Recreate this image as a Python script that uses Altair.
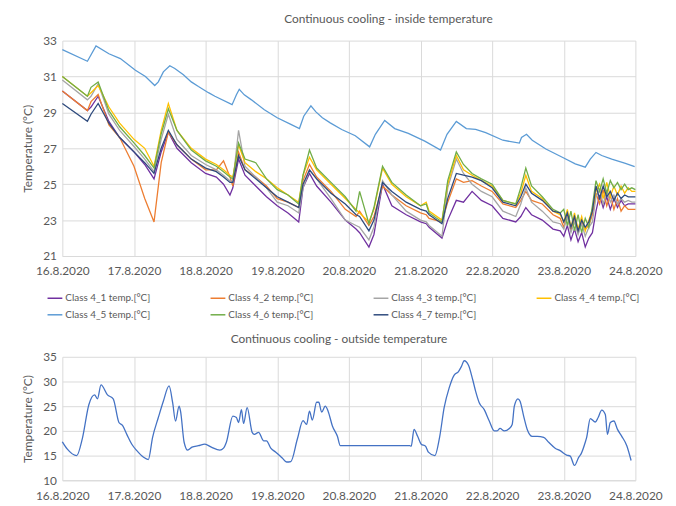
import altair as alt
import pandas as pd

# ---- inside temperatures: common time grid (days after 16.8.2020 00:00) ----
days = [0, 0.35, 0.40, 0.50, 0.65, 0.80, 1.00, 1.15, 1.28, 1.38,
        1.48, 1.60, 1.80, 2.00, 2.15, 2.25, 2.34, 2.38, 2.46, 2.55,
        2.70, 2.85, 3.00, 3.15, 3.30, 3.36, 3.45, 3.55, 3.75, 3.95,
        4.10, 4.15, 4.28, 4.35, 4.47, 4.60, 4.80, 5.00, 5.08, 5.12,
        5.30, 5.38, 5.50, 5.60, 5.72, 5.85, 6.00, 6.15, 6.33, 6.40,
        6.47, 6.55, 6.70, 6.85, 6.95, 7.00, 7.05, 7.10, 7.15, 7.20,
        7.25, 7.30, 7.35, 7.40, 7.45, 7.50, 7.55, 7.60, 7.65, 7.70,
        7.75, 7.80, 7.85, 7.90, 7.95, 8.00]

class_4_1 = [30.2, 29.1, 29.3, 29.9, 28.5, 27.6, 26.8, 26.1, 25.3, 26.8,
             27.9, 27.0, 26.2, 25.6, 25.4, 25.0, 24.4, 24.8, 26.4, 25.5,
             24.9, 24.3, 23.8, 23.4, 22.9, 24.8, 25.6, 24.9, 24.0, 23.0,
             22.5, 22.3, 21.5, 22.2, 25.0, 23.8, 23.3, 22.9, 22.8, 22.6,
             22.0, 23.0, 24.1, 24.0, 24.6, 24.1, 23.8, 23.1, 22.9, 23.2,
             23.7, 23.3, 23.0, 22.5, 22.4, 22.1, 22.7, 21.9, 22.5, 21.8,
             22.3, 21.5, 22.0, 22.3, 23.5, 24.4, 23.7, 24.3, 23.6, 24.2,
             23.7, 24.1, 23.8, 23.9, 23.9, 23.9]

class_4_2 = [30.2, 29.1, 29.6, 30.0, 28.3, 27.6, 26.0, 24.2, 22.9, 26.2,
             27.9, 27.2, 26.4, 25.8, 25.8, 26.3, 25.4, 24.9, 26.8, 25.8,
             25.4, 24.9, 24.2, 24.0, 23.7, 25.2, 26.1, 25.4, 24.6, 23.6,
             23.2, 23.5, 22.7, 23.2, 24.9, 24.4, 23.8, 23.4, 23.3, 23.1,
             22.9, 24.0, 25.3, 25.1, 25.2, 24.9, 24.6, 23.9, 23.7, 24.1,
             24.6, 24.1, 23.9, 23.3, 23.1, 22.6, 23.3, 22.4, 23.1, 22.3,
             22.9, 22.5, 22.7, 23.3, 24.5, 23.9, 24.7, 23.8, 24.4, 23.6,
             24.2, 23.5, 23.8, 23.6, 23.6, 23.6]

class_4_3 = [30.8, 29.7, 29.9, 30.6, 28.9, 28.0, 27.1, 26.4, 25.7, 27.5,
             28.9, 27.5, 26.6, 26.1, 25.8, 25.5, 25.2, 25.1, 28.0, 26.0,
             25.4, 24.8, 24.0, 23.8, 23.4, 24.8, 25.8, 25.3, 24.2, 23.0,
             22.7, 22.6, 21.9, 22.6, 25.2, 24.4, 23.5, 23.0, 22.9, 22.7,
             22.1, 24.8, 26.4, 25.6, 25.0, 24.6, 24.3, 23.5, 23.2, 23.9,
             24.8, 24.0, 23.5, 22.9, 22.8, 22.5, 23.2, 22.3, 22.9, 22.2,
             22.8, 22.1, 22.6, 22.9, 24.3, 24.7, 23.9, 24.6, 24.0, 24.4,
             23.9, 24.2, 24.0, 24.1, 24.0, 24.0]

class_4_4 = [31.0, 29.9, 30.1, 30.5, 29.3, 28.4, 27.5, 27.0, 26.0, 28.0,
             29.5, 28.0, 27.0, 26.4, 26.1, 25.8, 25.5, 25.4, 27.2, 26.2,
             25.7, 25.3, 24.8, 24.4, 24.0, 25.5, 26.5, 25.8, 25.0, 24.2,
             23.6, 23.4, 22.9, 23.6, 25.9, 25.0, 24.3, 23.8, 24.0, 23.5,
             23.0, 25.0, 26.6, 25.8, 25.5, 25.2, 24.9, 24.1, 23.9, 24.5,
             25.5, 24.6, 24.2, 23.5, 23.3, 22.9, 23.6, 22.6, 23.4, 22.5,
             23.2, 22.4, 23.0, 23.6, 24.6, 25.0, 24.2, 25.1, 24.3, 24.9,
             24.4, 24.9, 24.5, 24.8, 24.6, 24.6]

class_4_6 = [31.0, 29.9, 30.4, 30.7, 29.1, 28.2, 27.3, 26.6, 25.9, 27.8,
             29.2, 28.0, 26.9, 26.3, 26.0, 25.7, 25.4, 25.3, 27.3, 26.4,
             26.2, 25.3, 24.7, 24.4, 23.9, 25.5, 26.9, 25.9, 25.1, 24.3,
             23.5, 24.6, 22.8, 23.7, 26.0, 25.1, 24.4, 23.8, 23.9, 23.4,
             22.9, 25.2, 26.8, 26.1, 25.6, 25.3, 25.0, 24.1, 23.9, 24.8,
             25.9, 24.9, 24.3, 23.6, 23.4, 23.6, 22.7, 23.5, 22.4, 23.3,
             22.3, 23.1, 22.6, 23.8, 25.2, 24.6, 25.3, 24.5, 25.2, 24.8,
             25.1, 24.7, 25.0, 24.7, 24.8, 24.7]

class_4_7 = [29.5, 28.5, 28.9, 29.5, 28.4, 27.6, 26.8, 26.2, 25.6, 27.0,
             28.0, 27.2, 26.4, 25.9, 25.7, 25.4, 25.1, 25.1, 26.6, 25.8,
             25.3, 24.8, 24.3, 24.0, 23.7, 25.0, 25.8, 25.3, 24.5, 23.9,
             23.3, 23.2, 22.4, 23.0, 25.1, 24.6, 24.0, 23.6, 23.5, 23.3,
             22.8, 24.2, 25.6, 25.5, 25.4, 25.2, 24.8, 24.0, 23.8, 24.3,
             25.0, 24.5, 24.1, 23.5, 23.4, 22.9, 23.4, 22.6, 23.2, 22.4,
             23.0, 22.6, 22.9, 23.5, 24.9, 24.2, 24.9, 24.3, 24.6, 24.1,
             24.5, 24.2, 24.4, 24.3, 24.3, 24.3]

# Class 4_5 has its own time points
days_4_5 = [0, 0.35, 0.47, 0.65, 0.81, 1.02, 1.16, 1.29, 1.34, 1.41,
            1.5, 1.57, 1.69, 1.8, 1.9, 2.04, 2.13, 2.37, 2.43, 2.47,
            2.54, 2.64, 2.82, 3.0, 3.19, 3.31, 3.37, 3.47, 3.54, 3.63,
            3.74, 3.9, 4.09, 4.29, 4.37, 4.5, 4.64, 4.83, 5.06, 5.28,
            5.37, 5.5, 5.64, 5.77, 5.91, 6.15, 6.38, 6.41, 6.48, 6.56,
            6.75, 7.0, 7.16, 7.3, 7.37, 7.45, 7.53, 7.67, 7.85, 7.99]
class_4_5 = [32.5, 31.85, 32.7, 32.27, 32.0, 31.35, 31.0, 30.5, 30.7, 31.26,
             31.6, 31.45, 31.1, 30.7, 30.44, 30.1, 29.9, 29.43, 29.98, 30.29,
             29.98, 29.7, 29.15, 28.7, 28.33, 28.1, 28.79, 29.37, 29.03, 28.7,
             28.42, 28.05, 27.7, 27.08, 27.78, 28.55, 28.1, 27.83, 27.4, 26.9,
             27.78, 28.5, 28.1, 28.05, 27.87, 27.45, 27.29, 27.6, 27.78, 27.45,
             26.96, 26.46, 26.13, 25.95, 26.4, 26.77, 26.6, 26.4, 26.17, 25.98]

# ---- outside temperature ----
days_out = [0, .07, .2, .28, .37, .45, .49, .54, .63, .71,
            .79, .84, .9, .97, 1.04, 1.13, 1.2, 1.26, 1.34, 1.41,
            1.49, 1.54, 1.58, 1.63, 1.65, 1.7, 1.75, 1.81, 1.9, 1.99,
            2.08, 2.2, 2.25, 2.29, 2.38, 2.43, 2.46, 2.5, 2.53, 2.58,
            2.65, 2.68, 2.74, 2.81, 2.85, 2.91, 2.98, 3.07, 3.13, 3.19,
            3.28, 3.36, 3.41, 3.45, 3.49, 3.55, 3.58, 3.62, 3.67, 3.71,
            3.77, 3.84, 3.88, 4.85, 4.87, 4.91, 4.96, 5.01, 5.07, 5.11,
            5.2, 5.27, 5.33, 5.4, 5.47, 5.53, 5.57, 5.61, 5.67, 5.73,
            5.77, 5.82, 5.89, 5.96, 6.03, 6.07, 6.11, 6.17, 6.24, 6.28,
            6.31, 6.36, 6.39, 6.44, 6.49, 6.56, 6.63, 6.72, 6.79, 6.88,
            6.95, 7.04, 7.09, 7.15, 7.21, 7.24, 7.3, 7.32, 7.37, 7.44,
            7.48, 7.53, 7.58, 7.61, 7.65, 7.7, 7.75, 7.81, 7.88, 7.94]
temp_out = [17.8, 16.3, 15.0, 18.5, 25.3, 27.3, 26.5, 29.3, 27.3, 26.5,
            21.7, 21.1, 19.3, 17.3, 16.0, 14.7, 14.2, 18.7, 22.7, 26.0,
            29.1, 25.7, 22.0, 25.0, 24.0, 17.7, 16.1, 16.7, 17.0, 17.3,
            16.7, 16.1, 16.5, 17.7, 23.0, 22.7, 21.7, 24.3, 21.5, 24.7,
            19.7, 19.3, 19.7, 18.0, 18.0, 16.5, 15.7, 14.5, 13.7, 13.8,
            18.3, 22.1, 21.3, 24.0, 22.2, 25.8, 25.8, 23.8, 25.0, 24.0,
            21.0, 18.9, 17.0, 17.0, 16.9, 20.3, 18.9, 17.3, 16.9, 15.7,
            15.0, 19.0, 24.7, 28.7, 31.3, 32.0, 33.0, 34.2, 33.3, 30.3,
            28.0, 25.7, 24.3, 22.0, 20.0, 20.0, 20.5, 20.0, 20.5, 21.3,
            25.0, 26.5, 26.0, 23.0, 20.3, 18.9, 18.9, 18.7, 17.7, 16.5,
            16.0, 15.1, 14.9, 13.0, 14.7, 15.3, 17.7, 18.7, 22.5, 21.8,
            22.7, 24.2, 23.3, 19.3, 21.7, 22.0, 20.3, 18.9, 17.0, 14.0]

series_names = ["Class 4_1 temp.[°C]", "Class 4_2 temp.[°C]", "Class 4_3 temp.[°C]",
                "Class 4_4 temp.[°C]", "Class 4_5 temp.[°C]", "Class 4_6 temp.[°C]",
                "Class 4_7 temp.[°C]"]
series_colors = ["#7030A0", "#ED7D31", "#A5A5A5", "#FFC000", "#5B9BD5", "#70AD47", "#2E4A7D"]

rows = []
grid_series = [(0, class_4_1), (1, class_4_2), (2, class_4_3), (3, class_4_4),
               (5, class_4_6), (6, class_4_7)]
for idx, vals in grid_series:
    for d, v in zip(days, vals):
        rows.append({"day": d, "temp": v, "series": series_names[idx]})
for d, v in zip(days_4_5, class_4_5):
    rows.append({"day": d, "temp": v, "series": series_names[4]})
inside = pd.DataFrame(rows)
outside = pd.DataFrame({"day": days_out, "temp": temp_out})

FONT = "Lato"
TXT = "#595959"
GRID = "#D9D9D9"
W = 580


def x_axis(pad):
    return alt.Axis(values=list(range(9)), labelExpr="(16 + datum.value) + '.8.2020'",
                    title=None, grid=True, gridColor=GRID, domainColor=GRID,
                    ticks=False, tickSize=0, labelPadding=pad, labelFlush=False,
                    labelOverlap=False, labelFont=FONT, labelFontSize=12, labelColor=TXT)


def y_axis(vals):
    return alt.Axis(values=vals, title="Temperature (°C)", grid=True, gridColor=GRID,
                    domain=False, ticks=False, tickSize=0, labelPadding=6,
                    labelFont=FONT, labelFontSize=12, labelColor=TXT,
                    titleFont=FONT, titleFontSize=12, titleColor=TXT,
                    titleFontWeight="normal", titlePadding=8)


top = alt.Chart(inside).mark_line(strokeWidth=1.3).encode(
    x=alt.X("day:Q", scale=alt.Scale(domain=[0, 8], nice=False, zero=False), axis=x_axis(10)),
    y=alt.Y("temp:Q", scale=alt.Scale(domain=[21, 33], nice=False, zero=False),
            axis=y_axis([21, 23, 25, 27, 29, 31, 33])),
    color=alt.Color("series:N", scale=alt.Scale(domain=series_names, range=series_colors),
                    legend=alt.Legend(title=None, orient="none", legendX=-16, legendY=252,
                                      direction="horizontal", columns=4,
                                      symbolType="stroke", symbolSize=225,
                                      symbolStrokeWidth=1.5, labelFont=FONT, labelFontSize=10,
                                      labelColor=TXT, columnPadding=58, rowPadding=3,
                                      gridAlign="all", labelOffset=2, padding=0)),
).properties(
    width=W, height=218,
    title=alt.TitleParams("Continuous cooling - inside temperature", dx=40, offset=9,
                          anchor="middle"),
)

bottom = alt.Chart(outside).mark_line(strokeWidth=1.3, color="#4472C4",
                                      interpolate="monotone").encode(
    x=alt.X("day:Q", scale=alt.Scale(domain=[0, 8], nice=False, zero=False), axis=x_axis(10)),
    y=alt.Y("temp:Q", scale=alt.Scale(domain=[10, 35], nice=False, zero=False),
            axis=y_axis([10, 15, 20, 25, 30, 35])),
).properties(
    width=W, height=125,
    title=alt.TitleParams("Continuous cooling - outside temperature", dx=-10, offset=5,
                          anchor="middle"),
)

chart = alt.vconcat(top, bottom, spacing=57).properties(
    padding={"left": 14, "top": 2, "right": 5, "bottom": 2}
).configure_view(stroke=None).configure_title(
    font=FONT, fontSize=12, color=TXT, fontWeight="normal"
)

chart.save("out.html", embed_options={"renderer": "svg", "actions": False})
